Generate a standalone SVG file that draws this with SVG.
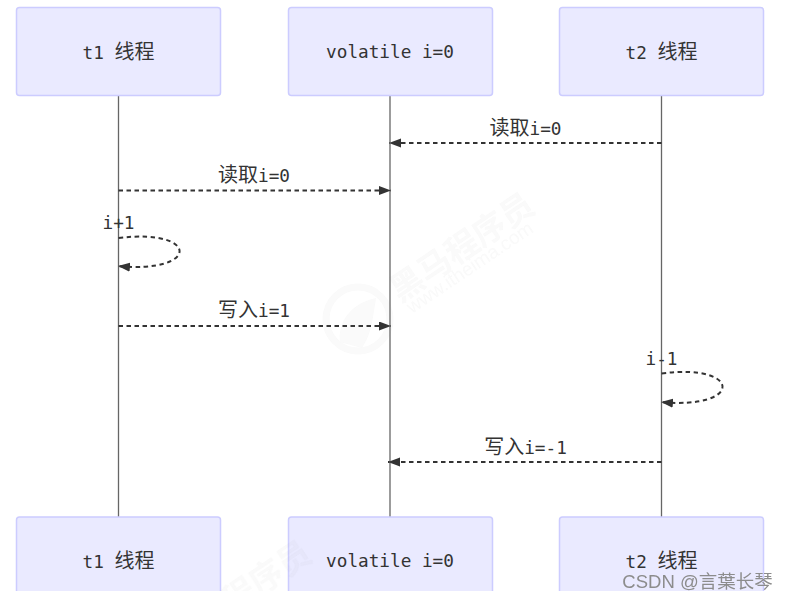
<svg xmlns="http://www.w3.org/2000/svg" width="788" height="601" viewBox="0 0 788 601">
  <style>
    text { font-family: "DejaVu Sans Mono", "Noto Sans CJK SC", monospace; font-size: 17.7px; fill: #333; text-anchor: middle; }
    .cjk { font-family: "Noto Sans CJK SC", sans-serif; font-size: 20px; }
    .actor { fill: #eaeaff; stroke: #ccccff; stroke-width: 1.5; }
    .life { stroke: #666; stroke-width: 1.3; fill: none; }
    .msg { stroke: #333; stroke-width: 2; stroke-dasharray: 4.500 3.500; fill: none; }
    .wm text { fill: #8a8a8a; text-anchor: start; }
    .wm .big { font-family: "Noto Sans CJK SC", sans-serif; font-weight: 700; font-size: 33px; }
    .wm .url { font-family: "Liberation Sans", sans-serif; font-size: 19px; }
    .wm { opacity: 0.05; }
  </style>
  <defs>
    <marker id="arrow" markerUnits="userSpaceOnUse" markerWidth="12" markerHeight="10" refX="12" refY="4.5" orient="auto">
      <path d="M0 0 L12 4.5 L0 9 Z" fill="#333"/>
    </marker>
  </defs>
  <rect width="788" height="601" fill="#fff"/>

  <g id="lifelines">
    <line class="life" x1="118.5" y1="96" x2="118.5" y2="517"/>
    <line class="life" x1="390" y1="96" x2="390" y2="517"/>
    <line class="life" x1="661.5" y1="96" x2="661.5" y2="517"/>
  </g>

  <g id="actor-t1-top"><rect class="actor" x="16.5" y="7.500" width="204" height="88" rx="3"/><text x="118.5" y="58.500">t1 <tspan class="cjk">线程</tspan></text></g>
  <g id="actor-v-top"><rect class="actor" x="288.5" y="7.500" width="204" height="88" rx="3"/><text x="390" y="58">volatile i=0</text></g>
  <g id="actor-t2-top"><rect class="actor" x="559.5" y="7.500" width="204" height="88" rx="3"/><text x="661.5" y="58.500">t2 <tspan class="cjk">线程</tspan></text></g>
  <g id="actor-t1-bottom"><rect class="actor" x="16.5" y="517" width="204" height="88" rx="3"/><text x="118.5" y="567.500">t1 <tspan class="cjk">线程</tspan></text></g>
  <g id="actor-v-bottom"><rect class="actor" x="288.5" y="517" width="204" height="88" rx="3"/><text x="390" y="567">volatile i=0</text></g>
  <g id="actor-t2-bottom"><rect class="actor" x="559.5" y="517" width="204" height="88" rx="3"/><text x="661.5" y="567.500">t2 <tspan class="cjk">线程</tspan></text></g>

  <g id="connectors">
    <line class="msg" x1="661.5" y1="143" x2="389" y2="143" marker-end="url(#arrow)"/>
    <text x="525.500" y="134.500"><tspan class="cjk">读取</tspan>i=0</text>
    <line class="msg" x1="118.5" y1="190.5" x2="391" y2="190.5" marker-end="url(#arrow)"/>
    <text x="254" y="181.500"><tspan class="cjk">读取</tspan>i=0</text>
    <path class="msg" d="M118.5 238 C200 228 200 274 118 266" marker-end="url(#arrow)"/>
    <text x="118.5" y="229">i+1</text>
    <line class="msg" x1="118.5" y1="326" x2="391" y2="326" marker-end="url(#arrow)"/>
    <text x="254" y="316.500"><tspan class="cjk">写入</tspan>i=1</text>
    <path class="msg" d="M661.5 373.500 C743 363 743 410 661 402" marker-end="url(#arrow)"/>
    <text x="661.500" y="365">i-1</text>
    <line class="msg" x1="661.5" y1="462" x2="388" y2="462" marker-end="url(#arrow)"/>
    <text x="525.500" y="453.500"><tspan class="cjk">写入</tspan>i=-1</text>
  </g>

  <g id="watermark" class="wm">
    <text class="big" transform="translate(400 303) rotate(-34)">黑马程序员</text>
    <text class="url" transform="translate(412 314) rotate(-34)">www.itheima.com</text>
    <circle cx="358" cy="319" r="32" fill="none" stroke="#8a8a8a" stroke-width="7"/>
    <path d="M340 342 C338 322 350 304 376 298 C372 322 372 332 362 348 Z" fill="#8a8a8a"/>
    <text class="big" transform="translate(177 651) rotate(-34)">黑马程序员</text>
  </g>

  <rect id="bottom-crop" x="0" y="591" width="788" height="10" fill="#fff"/>
  <text id="csdn" x="697.500" y="588" style="font-family:'Liberation Sans','Noto Sans CJK SC',sans-serif;font-size:18.500px;fill:#8c8c8c">CSDN @言葉长琴</text>
</svg>
